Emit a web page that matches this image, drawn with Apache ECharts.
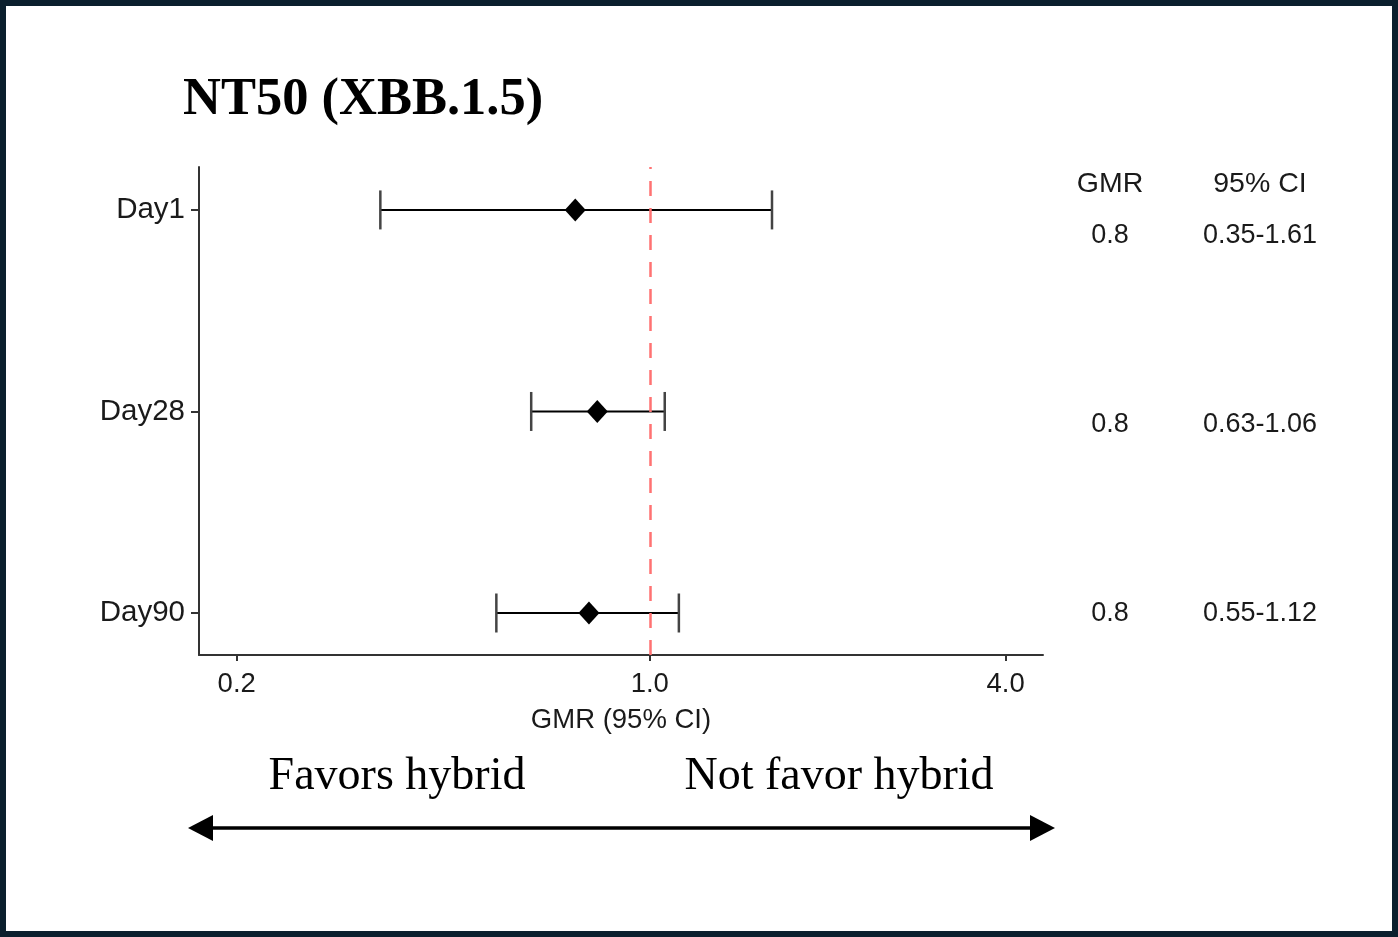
<!DOCTYPE html>
<html>
<head>
<meta charset="utf-8">
<script src="https://cdn.jsdelivr.net/npm/echarts@6/dist/echarts.min.js"></script>
<style>
html,body{margin:0;padding:0;background:#0b1f2d;}
#chart{width:1398px;height:937px;}
</style>
</head>
<body>
<div id="chart"></div>
<script>
// ---- data ----
const days = ['Day1', 'Day28', 'Day90'];
const gmr = [0.748, 0.815, 0.789];
const ciLow = [0.35, 0.63, 0.55];
const ciHigh = [1.61, 1.06, 1.12];
const xTicks = [0.2, 1.0, 4.0];
const tableHeader = ['GMR', '95% CI'];
const tableGMR = ['0.8', '0.8', '0.8'];
const tableCI = ['0.35-1.61', '0.63-1.06', '0.55-1.12'];
const tableRowY = [236, 425, 614];
const refValue = 1.0;

// ---- derived ----
const yPos = days.map((d, i) => days.length - i); // Day1 at top
const errData = days.map((d, i) => [Math.log10(ciLow[i]), Math.log10(ciHigh[i]), yPos[i]]);
const ptData = days.map((d, i) => [Math.log10(gmr[i]), yPos[i]]);

const chart = echarts.init(document.getElementById('chart'));
const labelFont = '"Liberation Sans", Arial, sans-serif';
const serif = '"Liberation Serif", "Times New Roman", serif';
const txtColor = '#1a1a1a';

const graphics = [
  { type: 'rect', z: -10, silent: true, shape: { x: 6, y: 6, width: 1386, height: 925 }, style: { fill: '#ffffff' } },
  { type: 'text', style: { text: 'NT50 (XBB.1.5)', x: 183, y: 100, fill: '#000', font: 'bold 52.5px ' + serif, align: 'left', verticalAlign: 'middle', textAlign: 'left', textVerticalAlign: 'middle' } },
  { type: 'text', style: { text: 'Favors hybrid', x: 397, y: 777, fill: '#000', font: '46px ' + serif, align: 'center', verticalAlign: 'middle', textAlign: 'center', textVerticalAlign: 'middle' } },
  { type: 'text', style: { text: 'Not favor hybrid', x: 839, y: 777, fill: '#000', font: '46px ' + serif, align: 'center', verticalAlign: 'middle', textAlign: 'center', textVerticalAlign: 'middle' } },
  { type: 'line', shape: { x1: 205, y1: 828, x2: 1038, y2: 828 }, style: { stroke: '#000', lineWidth: 3.5 } },
  { type: 'polygon', shape: { points: [[188, 828], [213, 815], [213, 841]] }, style: { fill: '#000' } },
  { type: 'polygon', shape: { points: [[1055, 828], [1030, 815], [1030, 841]] }, style: { fill: '#000' } }
];
const colX = [1110, 1260];
tableHeader.forEach((h, j) => {
  graphics.push({ type: 'text', style: { text: h, x: colX[j], y: 184, fill: txtColor, font: '28.5px ' + labelFont, align: 'center', verticalAlign: 'middle', textAlign: 'center', textVerticalAlign: 'middle' } });
});
days.forEach((d, i) => {
  graphics.push({ type: 'text', style: { text: tableGMR[i], x: colX[0], y: tableRowY[i], fill: txtColor, font: '27px ' + labelFont, align: 'center', verticalAlign: 'middle', textAlign: 'center', textVerticalAlign: 'middle' } });
  graphics.push({ type: 'text', style: { text: tableCI[i], x: colX[1], y: tableRowY[i], fill: txtColor, font: '27px ' + labelFont, align: 'center', verticalAlign: 'middle', textAlign: 'center', textVerticalAlign: 'middle' } });
});

const axisLineStyle = { color: '#333', width: 2 };

chart.setOption({
  animation: false,
  backgroundColor: '#0b1f2d',
  grid: { left: 199, right: 355, top: 167, bottom: 282, containLabel: false },
  xAxis: {
    type: 'value',
    min: -0.7628,
    max: 0.6654,
    name: 'GMR (95% CI)',
    nameLocation: 'middle',
    nameGap: 51,
    nameTextStyle: { fontSize: 27.5, color: txtColor, fontFamily: labelFont },
    axisLine: { show: true, onZero: false, lineStyle: axisLineStyle },
    axisTick: { show: true, length: 6, lineStyle: axisLineStyle, customValues: xTicks.map(v => Math.log10(v)) },
    axisLabel: {
      show: true, margin: 15, fontSize: 27.5, color: txtColor, fontFamily: labelFont,
      customValues: xTicks.map(v => Math.log10(v)),
      formatter: v => Math.pow(10, v).toFixed(1)
    },
    splitLine: { show: false }
  },
  yAxis: {
    type: 'value',
    min: 0.7916,
    max: 3.213,
    axisLine: { show: true, onZero: false, lineStyle: axisLineStyle },
    axisTick: { show: true, length: 8, lineStyle: axisLineStyle, customValues: yPos },
    axisLabel: {
      show: true, margin: 14, fontSize: 29.5, color: txtColor, fontFamily: labelFont,
      customValues: yPos,
      formatter: v => days[days.length - Math.round(v)]
    },
    splitLine: { show: false }
  },
  graphic: graphics,
  series: [
    {
      type: 'custom',
      z: 3,
      data: errData,
      encode: { x: [0, 1], y: 2 },
      renderItem: function (params, api) {
        const p1 = api.coord([api.value(0), api.value(2)]);
        const p2 = api.coord([api.value(1), api.value(2)]);
        const h = 19.5;
        const st = { stroke: '#000', lineWidth: 2 };
        return {
          type: 'group',
          children: [
            { type: 'line', shape: { x1: p1[0], y1: p1[1], x2: p2[0], y2: p2[1] }, style: st },
            { type: 'line', shape: { x1: p1[0], y1: p1[1] - h, x2: p1[0], y2: p1[1] + h }, style: { stroke: '#444', lineWidth: 2.5 } },
            { type: 'line', shape: { x1: p2[0], y1: p2[1] - h, x2: p2[0], y2: p2[1] + h }, style: { stroke: '#444', lineWidth: 2.5 } }
          ]
        };
      }
    },
    {
      type: 'scatter',
      z: 4,
      data: ptData,
      symbol: 'diamond',
      symbolSize: [21, 23],
      itemStyle: { color: '#000', opacity: 1 },
      markLine: {
        silent: true,
        symbol: 'none',
        label: { show: false },
        lineStyle: { color: '#ff7272', width: 2.5, type: [15, 12] },
        data: [{ xAxis: Math.log10(refValue) }]
      }
    }
  ]
});
</script>
</body>
</html>
